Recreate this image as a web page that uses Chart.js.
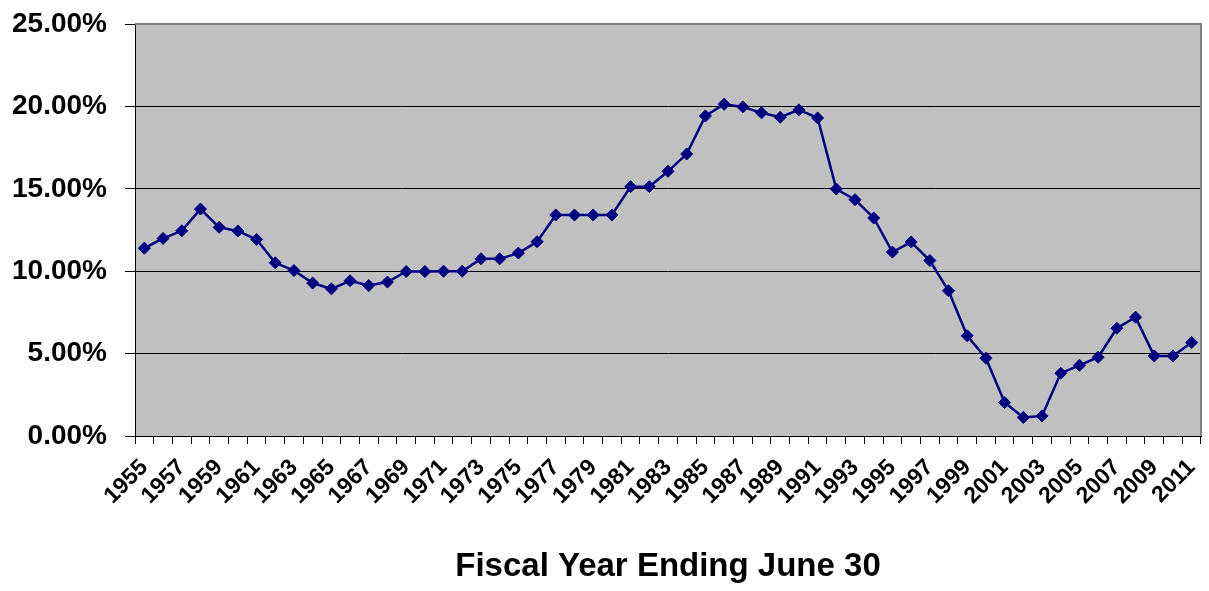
<!DOCTYPE html>
<html>
<head>
<meta charset="utf-8">
<script src="https://cdn.jsdelivr.net/npm/chart.js@4"></script>
<style>
  html, body { margin: 0; padding: 0; background: #ffffff; }
  #wrap { width: 1209px; height: 591px; }
</style>
</head>
<body>
<div id="wrap"><canvas id="rateChart" width="1209" height="591"></canvas></div>
<script>
// fiscal years 1955..2011
const years = []
for (let y = 1955; y <= 2011; y++) years.push(String(y))

// rate per fiscal year, in percent
const rates = [
  11.40, 11.99, 12.45, 13.77, 12.66, 12.44, 11.93, 10.51, 10.04, 9.28,
  8.93, 9.42, 9.13, 9.34, 9.98, 9.98, 10.00, 10.00, 10.75, 10.75,
  11.10, 11.79, 13.41, 13.41, 13.41, 13.41, 15.13, 15.13, 16.06, 17.11,
  19.42, 20.13, 19.97, 19.61, 19.34, 19.79, 19.30, 14.99, 14.34, 13.23,
  11.16, 11.77, 10.65, 8.81, 6.08, 4.72, 2.03, 1.13, 1.22, 3.81,
  4.29, 4.78, 6.54, 7.21, 4.86, 4.86, 5.67
]

const yTicks = [0, 5, 10, 15, 20, 25]
const axisTitle = 'Fiscal Year Ending June 30'

// gray plot area plus the gray top/right frame
const plotFrame = {
  id: 'plotFrame',
  beforeDraw(chart) {
    const { ctx, chartArea: a } = chart
    ctx.save()
    ctx.fillStyle = '#c0c0c0'
    ctx.fillRect(a.left, a.top, a.right - a.left, a.bottom - a.top)
    ctx.restore()
  },
  afterDatasetsDraw(chart) {
    const { ctx, chartArea: a } = chart
    ctx.save()
    ctx.strokeStyle = '#808080'
    ctx.lineWidth = 2
    ctx.beginPath()
    ctx.moveTo(a.left, a.top)
    ctx.lineTo(a.right, a.top)
    ctx.lineTo(a.right, a.bottom)
    ctx.stroke()
    ctx.restore()
  }
}

const ctx = document.getElementById('rateChart').getContext('2d')
new Chart(ctx, {
  type: 'line',
  data: {
    labels: years,
    datasets: [{
      data: rates,
      borderColor: '#000080',
      backgroundColor: '#000080',
      borderWidth: 2.5,
      pointStyle: 'rectRot',
      pointRadius: 6,
      pointBorderWidth: 1,
      tension: 0,
      fill: false
    }]
  },
  options: {
    responsive: false,
    animation: false,
    layout: { padding: { top: 24, right: 8, left: 0, bottom: 4 } },
    plugins: {
      legend: { display: false },
      tooltip: { enabled: false }
    },
    scales: {
      x: {
        offset: true,
        afterFit: axis => {
          axis.height = 151
          axis.paddingLeft = 0
          axis.paddingRight = 0
        },
        grid: {
          offset: true,
          drawOnChartArea: false,
          drawTicks: true,
          tickLength: 8,
          color: '#000000'
        },
        border: { color: '#000000', width: 1 },
        ticks: {
          autoSkip: false,
          maxRotation: 45,
          minRotation: 45,
          padding: 10,
          color: '#000000',
          font: { family: 'Liberation Sans', size: 23, weight: 'bold' },
          callback: (v, i) => (i % 2 === 0 ? years[i] : '')
        },
        title: {
          display: true,
          text: axisTitle,
          color: '#000000',
          padding: { top: 0, bottom: 0 },
          font: { family: 'Liberation Sans', size: 33, weight: 'bold' }
        }
      },
      y: {
        min: 0,
        max: 25,
        afterFit: axis => {
          axis.width = 135
          axis.paddingTop = 0
          axis.paddingBottom = 0
        },
        afterBuildTicks: axis => { axis.ticks = yTicks.map(v => ({ value: v })) },
        grid: {
          color: c => (c.tick && c.tick.value === 25 ? '#808080' : '#000000'),
          lineWidth: 1,
          tickLength: 10,
          tickColor: '#000000'
        },
        border: { color: '#000000', width: 1 },
        ticks: {
          padding: 18,
          color: '#000000',
          font: { family: 'Liberation Sans', size: 28, weight: 'bold' },
          callback: v => v.toFixed(2) + '%'
        }
      }
    }
  },
  plugins: [plotFrame]
})
</script>
</body>
</html>
